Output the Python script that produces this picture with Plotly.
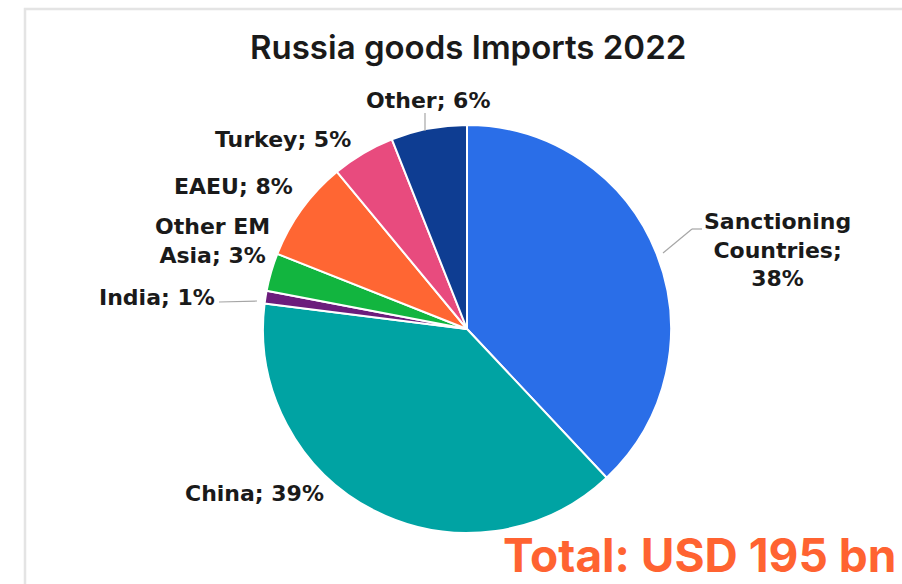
import plotly.graph_objects as go

# Russia goods imports 2022, share by origin (%)
categories = ["Sanctioning Countries", "China", "India", "Other EM Asia", "EAEU", "Turkey", "Other"]
shares = [38, 39, 1, 3, 8, 5, 6]
colors = ["#2a6ee8", "#00a3a3", "#6b1c7c", "#12b53f", "#ff6633", "#e84b7e", "#0e3d92"]
# how each category name is broken across lines in its label
label_lines = {
    "Sanctioning Countries": "Sanctioning<br>Countries;<br>",
    "Other EM Asia": "Other EM<br>Asia; ",
}
title_text = "Russia goods Imports 2022"
total_text = "Total: USD 195 bn"

W, H = 902, 584


def px(x, y):
    """Pixel position in the page -> paper coordinates."""
    return x / W, 1 - y / H


# pie centre and radius in pixels
cx, cy, r = 467, 329, 204
x0, y1 = px(cx - r, cy - r)
x1, y0 = px(cx + r, cy + r)

fig = go.Figure(
    go.Pie(
        labels=categories,
        values=shares,
        sort=False,
        direction="clockwise",
        rotation=0,
        marker=dict(colors=colors, line=dict(color="white", width=2)),
        textinfo="none",
        hovertemplate="%{label}: %{value}%<extra></extra>",
        domain=dict(x=[x0, x1], y=[y0, y1]),
        showlegend=False,
    )
)

# label centres (pixels) and leader lines
label_pos = {
    "Sanctioning Countries": (777, 250),
    "China": (254, 493),
    "India": (157, 297),
    "Other EM Asia": (212, 241),
    "EAEU": (233, 186),
    "Turkey": (283, 140),
    "Other": (428, 100),
}
leaders = {
    "Sanctioning Countries": [(702, 229), (692, 229), (663, 253)],
    "India": [(219, 302), (257, 301)],
    "Other": [(425, 113), (425, 131)],
}

label_font = dict(family="DejaVu Sans", size=22, color="#1a1a1a", weight="bold")
annotations = []
for cat, val in zip(categories, shares):
    prefix = label_lines.get(cat, cat + "; ")
    x, y = px(*label_pos[cat])
    annotations.append(dict(
        x=x, y=y, xref="paper", yref="paper", text=f"{prefix}{val}%",
        showarrow=False, xanchor="center", yanchor="middle", align="center",
        font=label_font,
    ))

annotations.append(dict(
    x=px(468, 47)[0], y=px(468, 47)[1], xref="paper", yref="paper",
    text=title_text, showarrow=False, xanchor="center", yanchor="middle",
    font=dict(family="Inter", size=33, color="#1a1a1a", weight=600),
))
annotations.append(dict(
    x=px(897, 584)[0], y=0, xref="paper", yref="paper",
    text=total_text, showarrow=False, xanchor="right", yanchor="bottom",
    borderpad=0,
    font=dict(family="Inter", size=46, color="#ff6331", weight="bold"),
))

shapes = []
for pts in leaders.values():
    for (ax, ay), (bx, by) in zip(pts[:-1], pts[1:]):
        p0, p1 = px(ax, ay), px(bx, by)
        shapes.append(dict(type="line", xref="paper", yref="paper",
                           x0=p0[0], y0=p0[1], x1=p1[0], y1=p1[1],
                           line=dict(color="#a6a6a6", width=1.2)))

# light frame around the chart area
f0, f1 = px(25, 9), px(960, 640)
shapes.append(dict(type="rect", xref="paper", yref="paper",
                   x0=f0[0], y0=f1[1], x1=f1[0], y1=f0[1],
                   line=dict(color="#e4e4e4", width=2.5), layer="below"))

fig.update_layout(
    width=W, height=H,
    margin=dict(l=0, r=0, t=0, b=0),
    paper_bgcolor="white", plot_bgcolor="white",
    annotations=annotations, shapes=shapes,
)

fig.write_html("out.html")
